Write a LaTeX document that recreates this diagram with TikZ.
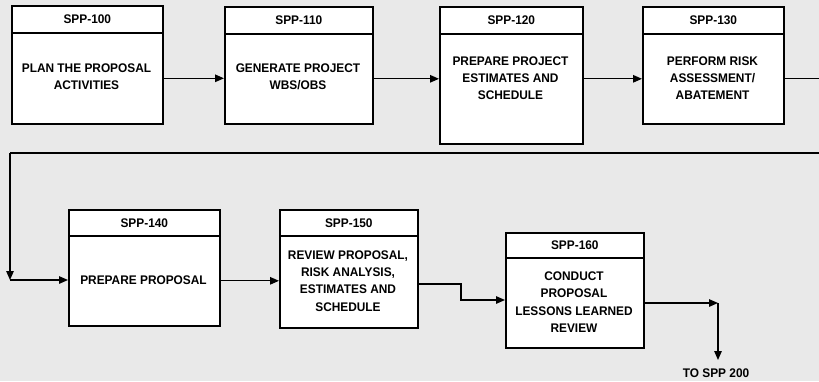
\documentclass[tikz,border=0pt]{standalone}
\usepackage{fontspec}
\setmainfont{Liberation Sans}[FakeStretch=0.95]
\usetikzlibrary{arrows.meta}
\definecolor{bg}{HTML}{E9E9E9}
\tikzset{
  boxline/.style={draw=black, line width=1.6pt, fill=white, inner sep=0pt},
  hdr/.style={boxline, anchor=north west, font=\bfseries\fontsize{12.5}{17.3}\selectfont},
  bdy/.style={boxline, anchor=north west},
  txt/.style={align=center, inner sep=0pt, font=\bfseries\fontsize{12.5}{17.3}\selectfont},
  conn/.style={draw=black, line width=1.3pt},
  arr/.style={conn, -{Triangle[length=9pt,width=7.5pt]}},
}
\begin{document}
\begin{tikzpicture}[x=1pt,y=-1pt]
\fill[bg] (0,0) rectangle (819,381);
\useasboundingbox (0,0) rectangle (819,381);

% Box 1
\node[hdr, minimum width=151pt, minimum height=27pt] (h1) at (11,5) {SPP-100};
\node[bdy, minimum width=151pt, minimum height=91pt] (b1) at (11,32) {};
\node[txt] (t1) at (86.5,77) {PLAN THE PROPOSAL\\ACTIVITIES};
% Box 2
\node[hdr, minimum width=148pt, minimum height=27pt] (h2) at (224,6) {SPP-110};
\node[bdy, minimum width=148pt, minimum height=90pt] (b2) at (224,33) {};
\node[txt] (t2) at (298,77) {GENERATE PROJECT\\WBS/OBS};
% Box 3
\node[hdr, minimum width=143pt, minimum height=27pt] (h3) at (439,6) {SPP-120};
\node[bdy, minimum width=143pt, minimum height=110pt] (b3) at (439,33) {};
\node[txt] (t3) at (510.5,78) {PREPARE PROJECT\\ESTIMATES AND\\SCHEDULE};
% Box 4
\node[hdr, minimum width=141pt, minimum height=27pt] (h4) at (642,6) {SPP-130};
\node[bdy, minimum width=141pt, minimum height=90pt] (b4) at (642,33) {};
\node[txt] (t4) at (712.5,78) {PERFORM RISK\\ASSESSMENT/\\ABATEMENT};
% Box 5
\node[hdr, minimum width=151pt, minimum height=26pt] (h5) at (68,209) {SPP-140};
\node[bdy, minimum width=151pt, minimum height=90pt] (b5) at (68,235) {};
\node[txt] (t5) at (143.5,280) {PREPARE PROPOSAL};
% Box 6
\node[hdr, minimum width=138pt, minimum height=26pt] (h6) at (279,209) {SPP-150};
\node[bdy, minimum width=138pt, minimum height=92pt] (b6) at (279,235) {};
\node[txt] (t6) at (348,281) {REVIEW PROPOSAL,\\RISK ANALYSIS,\\ESTIMATES AND\\SCHEDULE};
% Box 7
\node[hdr, minimum width=138pt, minimum height=25pt] (h7) at (505,232) {SPP-160};
\node[bdy, minimum width=138pt, minimum height=90pt] (b7) at (505,257) {};
\node[txt] (t7) at (574,302) {CONDUCT\\PROPOSAL\\LESSONS LEARNED\\REVIEW};

% connectors
\coordinate (c1) at (823,77);
\coordinate (c2) at (823,153);
\coordinate (c3) at (10,153);
\coordinate (c4) at (10,280);
\coordinate (c5) at (461,284);
\coordinate (c6) at (461,300);
\coordinate (c7) at (718,303);
\coordinate (c8) at (718,360);

\draw[arr] (b1.east) -- (b1.east -| b2.west);
\draw[arr] (b2.east) -- (b2.east -| b3.west);
\draw[arr] (b3.east |- b2.east) -- (b2.east -| b4.west);
\draw[conn] (b4.east) -- (c1 |- b4.east) -- (c2) -- (c3);
\draw[arr] (c3) -- (c4);
\draw[arr] (c4) -- (c4 -| b5.west);
\draw[arr] (b5.east) -- (b5.east -| b6.west);
\draw[arr] (b6.east |- c5) -- (c5) -- (c6) -- (c6 -| b7.west);
\draw[arr] (b7.east |- c7) -- (c7);
\draw[arr] (c7) -- (c8);
\node[txt] (to) at (716,373) {TO SPP 200};
\end{tikzpicture}
\end{document}
